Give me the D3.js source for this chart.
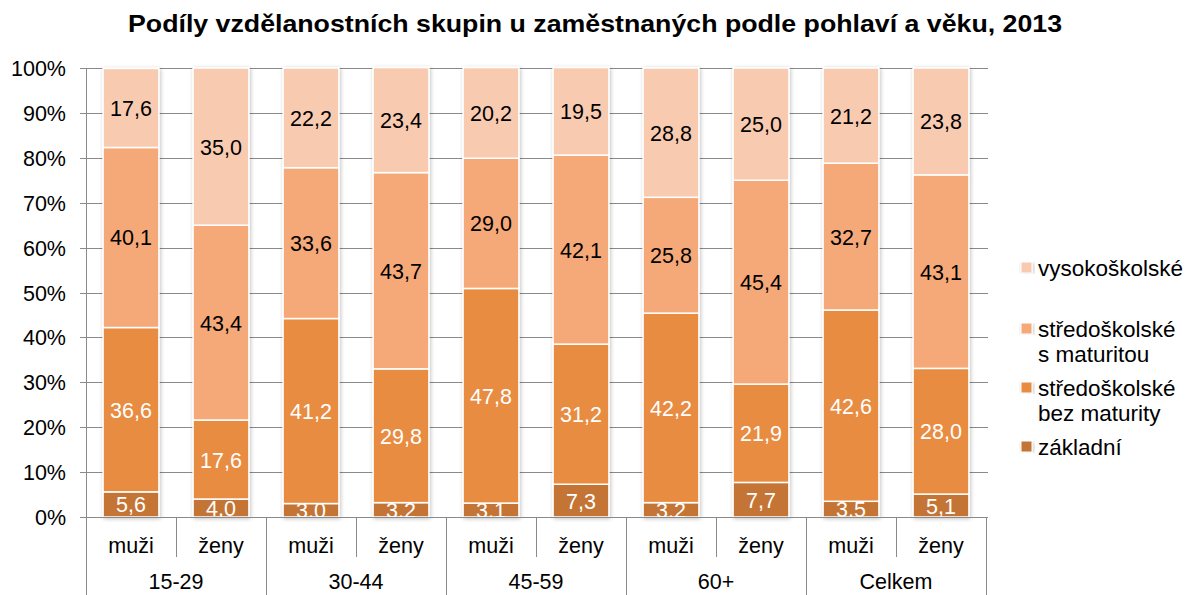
<!DOCTYPE html>
<html>
<head>
<meta charset="utf-8">
<script src="https://cdn.jsdelivr.net/npm/d3@7"></script>
<style>
  body { margin: 0; background: #fff; }
  text { font-family: "Liberation Sans", Arial, sans-serif; }
</style>
</head>
<body>
<div id="chart"></div>
<script>
const groups = ["15-29", "30-44", "45-59", "60+", "Celkem"];
const sexes = ["muži", "ženy"];
const seriesNames = ["základní", "středoškolské\nbez maturity", "středoškolské\ns maturitou", "vysokoškolské"];
const zakladni   = [5.6, 4.0, 3.0, 3.2, 3.1, 7.3, 3.2, 7.7, 3.5, 5.1];
const bezMat     = [36.6, 17.6, 41.2, 29.8, 47.8, 31.2, 42.2, 21.9, 42.6, 28.0];
const sMat       = [40.1, 43.4, 33.6, 43.7, 29.0, 42.1, 25.8, 45.4, 32.7, 43.1];
const vysoko     = [17.6, 35.0, 22.2, 23.4, 20.2, 19.5, 28.8, 25.0, 21.2, 23.8];
const yTicks = [0, 10, 20, 30, 40, 50, 60, 70, 80, 90, 100];

const colors = ["#C47535", "#E88C42", "#F5A878", "#F8CBB1"];
const labelColors = ["#fff", "#fff", "#000", "#000"];

const W = 1188, H = 595;
const pLeft = 86, pRight = 986, pTop = 68, pBottom = 517;
const fs = "21.5px";

const svg = d3.select("#chart").append("svg")
  .attr("width", W).attr("height", H);

svg.append("text")
  .attr("x", 128).attr("y", 32)
  .attr("font-size", "24px").attr("font-weight", "bold")
  .attr("textLength", 934).attr("lengthAdjust", "spacingAndGlyphs")
  .text("Podíly vzdělanostních skupin u zaměstnaných podle pohlaví a věku, 2013");

const keys = [];
groups.forEach(g => sexes.forEach(s => keys.push(g + "|" + s)));

const rows = keys.map((k, i) => ({
  key: k, s0: zakladni[i], s1: bezMat[i], s2: sMat[i], s3: vysoko[i]
}));
const stack = d3.stack().keys(["s0", "s1", "s2", "s3"])(rows);

const x = d3.scaleBand().domain(keys).range([pLeft, pRight]).paddingInner(0.38).paddingOuter(0.19);
const xOuter = d3.scaleBand().domain(keys).range([pLeft, pRight]);
const y = d3.scaleLinear().domain([0, 100]).range([pBottom, pTop]);

// gridlines
svg.append("g").selectAll("line").data(yTicks).join("line")
  .attr("x1", pLeft - 6).attr("x2", pRight + 2)
  .attr("y1", d => Math.round(y(d)) + 0.5).attr("y2", d => Math.round(y(d)) + 0.5)
  .attr("stroke", "#8a8a8a").attr("stroke-width", 1);

// y axis line
svg.append("line")
  .attr("x1", pLeft + 0.5).attr("x2", pLeft + 0.5)
  .attr("y1", pTop).attr("y2", pBottom)
  .attr("stroke", "#8a8a8a");

svg.append("g").selectAll("text").data(yTicks).join("text")
  .attr("x", pLeft - 20).attr("y", d => y(d) + 8)
  .attr("text-anchor", "end")
  .attr("font-size", fs)
  .text(d => d + "%");

// shadow filter
const defs = svg.append("defs");
const f = defs.append("filter").attr("id", "sh").attr("x", "-20%").attr("y", "-5%").attr("width", "140%").attr("height", "110%");
f.append("feGaussianBlur").attr("in", "SourceAlpha").attr("stdDeviation", 2).attr("result", "b");
f.append("feOffset").attr("in", "b").attr("dx", 1).attr("dy", 1).attr("result", "o");
f.append("feComponentTransfer").attr("in", "o").attr("result", "o2")
  .append("feFuncA").attr("type", "linear").attr("slope", 0.25);
const m = f.append("feMerge");
m.append("feMergeNode").attr("in", "o2");
m.append("feMergeNode").attr("in", "SourceGraphic");

defs.append("clipPath").attr("id", "plot")
  .append("rect").attr("x", pLeft).attr("y", pTop - 5).attr("width", pRight - pLeft).attr("height", pBottom - pTop + 5);

const barsG = svg.append("g").attr("filter", "url(#sh)");
stack.forEach((layer, li) => {
  barsG.append("g").selectAll("rect").data(layer).join("rect")
    .attr("x", d => x(d.data.key))
    .attr("width", x.bandwidth())
    .attr("y", d => y(d[1]))
    .attr("height", d => y(d[0]) - y(d[1]))
    .attr("fill", colors[li])
    .attr("stroke", "#fff").attr("stroke-width", 1.5);
});

const labG = svg.append("g").attr("clip-path", "url(#plot)");
stack.forEach((layer, li) => {
  labG.append("g").selectAll("text").data(layer).join("text")
    .attr("x", d => x(d.data.key) + x.bandwidth() / 2)
    .attr("y", d => y((d[0] + d[1]) / 2) + 8)
    .attr("text-anchor", "middle")
    .attr("font-size", fs)
    .attr("fill", labelColors[li])
    .text(d => d3.format(".1f")(d[1] - d[0]).replace(".", ","));
});

// x axis
svg.append("line")
  .attr("x1", pLeft).attr("x2", pRight + 2)
  .attr("y1", pBottom + 0.5).attr("y2", pBottom + 0.5)
  .attr("stroke", "#8a8a8a");

// sub dividers
svg.append("g").selectAll("line").data(groups).join("line")
  .attr("x1", (g, i) => Math.round(xOuter(keys[i * 2 + 1])) + 0.5)
  .attr("x2", (g, i) => Math.round(xOuter(keys[i * 2 + 1])) + 0.5)
  .attr("y1", pBottom).attr("y2", 557)
  .attr("stroke", "#8a8a8a");

// group dividers
const gb = groups.map((g, i) => xOuter(keys[i * 2])).concat([pRight]);
svg.append("g").selectAll("line").data(gb).join("line")
  .attr("x1", d => Math.round(d) + 0.5).attr("x2", d => Math.round(d) + 0.5)
  .attr("y1", pBottom).attr("y2", H)
  .attr("stroke", "#8a8a8a");

svg.append("g").selectAll("text").data(keys).join("text")
  .attr("x", d => x(d) + x.bandwidth() / 2)
  .attr("y", 553)
  .attr("text-anchor", "middle")
  .attr("font-size", fs)
  .text(d => d.split("|")[1]);

svg.append("g").selectAll("text").data(groups).join("text")
  .attr("x", (g, i) => xOuter(keys[i * 2]) + xOuter.bandwidth())
  .attr("y", 589)
  .attr("text-anchor", "middle")
  .attr("font-size", fs)
  .text(d => d);

// legend
const legendY = [276, 337, 396, 455];
const legOrder = [3, 2, 1, 0];
const leg = svg.append("g").selectAll("g").data(legOrder).join("g")
  .attr("transform", (d, i) => `translate(1021,${legendY[i]})`);
leg.append("rect").attr("x", 0).attr("y", -14).attr("width", 11).attr("height", 11)
  .attr("fill", d => colors[d]).attr("stroke", "#fff").attr("stroke-width", 1)
  .attr("filter", "url(#sh)");
leg.append("text")
  .attr("x", 17).attr("y", 0)
  .attr("font-size", "22.5px")
  .each(function(d) {
    const lines = seriesNames[d].split("\n");
    d3.select(this).selectAll("tspan").data(lines).join("tspan")
      .attr("x", 17).attr("dy", (l, j) => j === 0 ? 0 : 24.5)
      .text(l => l);
  });
</script>
</body>
</html>
